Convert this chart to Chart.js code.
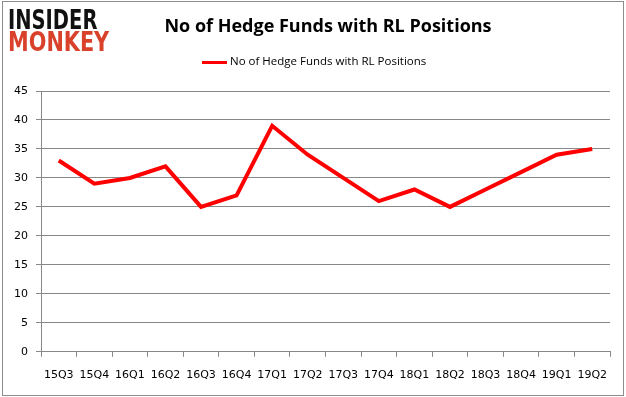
<!DOCTYPE html>
<html>
<head>
<meta charset="utf-8">
<script src="https://cdn.jsdelivr.net/npm/chart.js@4"></script>
<style>
  html, body { margin: 0; padding: 0; background: #fff; }
  #wrap { position: relative; width: 626px; height: 397px; }
  #frame { position: absolute; left: 2px; top: 1px; width: 620px; height: 393px; border: 1px solid #8c8c8c; pointer-events: none; }
  #logo { position: absolute; left: 8px; top: 9px; font-family: "DejaVu Sans", sans-serif; font-weight: bold; font-size: 26px; line-height: 22px; white-space: nowrap; }
  #logo div { transform-origin: 0 0; }
  #logo .a { color: #111; transform: scaleX(0.75); }
  #logo .b { color: #d9412b; transform: scaleX(0.8); }
</style>
</head>
<body>
<div id="wrap">
  <canvas id="chart" width="626" height="397"></canvas>
  <div id="logo"><div class="a">INSIDER</div><div class="b">MONKEY</div></div>
  <div id="frame"></div>
</div>
<script>
var quarters = ['15Q3', '15Q4', '16Q1', '16Q2', '16Q3', '16Q4', '17Q1', '17Q2',
                '17Q3', '17Q4', '18Q1', '18Q2', '18Q3', '18Q4', '19Q1', '19Q2'];
var fundCounts = [33, 29, 30, 32, 25, 27, 39, 34, 30, 26, 28, 25, 28, 31, 34, 35];
var yTicks = [0, 5, 10, 15, 20, 25, 30, 35, 40, 45];
var seriesName = 'No of Hedge Funds with RL Positions';

var LineChart = (function () {

    // Variables

    var $canvas = document.getElementById('chart');

    // title and legend drawn at the spots the reference uses
    var headerPlugin = {
        id: 'header',
        afterDraw: function (chart) {
            var ctx = chart.ctx;
            ctx.save();
            ctx.fillStyle = '#000';
            ctx.textBaseline = 'middle';
            ctx.textAlign = 'center';
            ctx.font = 'bold 18px "Open Sans"';
            ctx.fillText(seriesName, 328, 27);

            ctx.strokeStyle = '#ff0000';
            ctx.lineWidth = 3;
            ctx.beginPath();
            ctx.moveTo(202, 62.5);
            ctx.lineTo(227, 62.5);
            ctx.stroke();

            ctx.textAlign = 'left';
            ctx.font = '11.5px "Open Sans"';
            ctx.fillText(seriesName, 230, 62);
            ctx.restore();
        }
    };

    // Methods

    function init(canvas) {
        var lineChart = new Chart(canvas, {
            type: 'line',
            data: {
                labels: quarters,
                datasets: [{
                    label: seriesName,
                    data: fundCounts,
                    borderColor: '#ff0000',
                    backgroundColor: '#ff0000',
                    borderWidth: 4,
                    pointRadius: 0,
                    tension: 0
                }]
            },
            options: {
                responsive: false,
                animation: false,
                layout: { padding: { left: 6, right: 16, top: 91, bottom: 3 } },
                plugins: {
                    title: { display: false },
                    legend: { display: false },
                    tooltip: { enabled: false }
                },
                scales: {
                    x: {
                        offset: true,
                        grid: { display: true, drawOnChartArea: false, offset: true, color: '#888', tickLength: 5 },
                        border: { color: '#888' },
                        ticks: { color: '#000', font: { family: 'DejaVu Sans', size: 11 }, padding: 12, maxRotation: 0, autoSkip: false }
                    },
                    y: {
                        min: 0,
                        max: 45,
                        afterBuildTicks: function (scale) {
                            scale.ticks = yTicks.map(function (v) { return { value: v }; });
                        },
                        afterFit: function (scale) {
                            scale.width = 35;
                        },
                        grid: { color: '#888', tickLength: 5 },
                        border: { color: '#888' },
                        ticks: { color: '#000', font: { family: 'DejaVu Sans', size: 11 }, padding: 8 }
                    }
                }
            },
            plugins: [headerPlugin]
        });
        return lineChart;
    }

    // Events

    if ($canvas) {
        return init($canvas);
    }

})();
</script>
</body>
</html>
